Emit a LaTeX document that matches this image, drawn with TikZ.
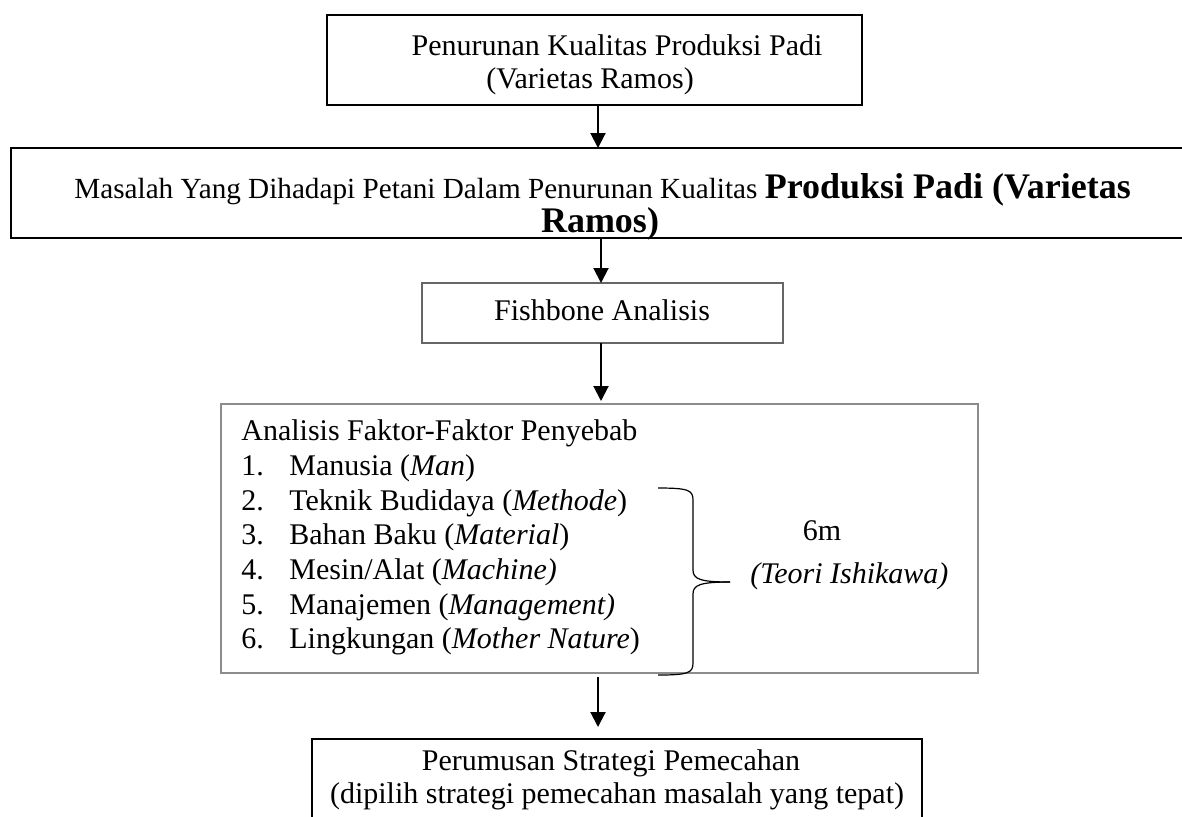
\documentclass[tikz,border=0pt]{standalone}
\usepackage{fontspec}
\setmainfont{Liberation Serif}
\usetikzlibrary{arrows.meta}
\newcommand{\myfs}{\fontsize{15}{17}\selectfont}
\newcommand{\mysm}{\fontsize{14.6}{17}\selectfont}
\newcommand{\mybf}{\bfseries\fontsize{18}{20}\selectfont}
\begin{document}
\begin{tikzpicture}[x=0.5pt,y=-0.5pt,
  boxthick/.style={draw=black,line width=1.1pt,inner sep=0pt,outer sep=0pt},
  boxthin/.style={draw=black!60,line width=0.6pt,inner sep=0pt,outer sep=0pt},
  boxlight/.style={draw=black!45,line width=0.6pt,inner sep=0pt,outer sep=0pt},
  txt/.style={inner sep=0pt,font=\myfs},
  arr/.style={line width=1pt,-{Triangle[length=7.5pt,width=7.5pt]}},
  bracepath/.style={line width=0.6pt,black}
]
\useasboundingbox (0,0) rectangle (1182,816);

% boxes
\node[boxthick,minimum width=267.5pt,minimum height=45pt] (b1) at (594.5,60) {};
\node[boxthick,minimum width=589.5pt,minimum height=45pt] (b2) at (600.5,193) {};
\node[boxthin,minimum width=180.5pt,minimum height=30pt] (b3) at (602.5,313) {};
\node[boxlight,minimum width=378.5pt,minimum height=134.5pt] (b4) at (599.5,538.5) {};
\node[boxthick,minimum width=305pt,minimum height=45.5pt] (b5) at (617,784.5) {};

% texts
\node[txt,anchor=base] (t1a) at (617,55) {Penurunan Kualitas Produksi Padi};
\node[txt,anchor=base] (t1b) at (590,88) {(Varietas Ramos)};
\node[txt,anchor=base west] (t2a) at (74,198) {\mysm Masalah Yang Dihadapi Petani Dalam Penurunan Kualitas {\mybf Produksi Padi (Varietas}};
\node[txt,anchor=base] (t2b) at (600,232) {\mybf Ramos)};
\node[txt,anchor=base] (t3) at (602,320) {Fishbone Analisis};

\node[txt,anchor=base west] (h4) at (241,440) {Analisis Faktor-Faktor Penyebab};
\node[txt,anchor=base west] (i1) at (241,475) {\makebox[24pt][l]{1.}Manusia (\textit{Man})};
\node[txt,anchor=base west] (i2) at (241,510) {\makebox[24pt][l]{2.}Teknik Budidaya (\textit{Methode})};
\node[txt,anchor=base west] (i3) at (241,544) {\makebox[24pt][l]{3.}Bahan Baku (\textit{Material})};
\node[txt,anchor=base west] (i4) at (241,579) {\makebox[24pt][l]{4.}Mesin/Alat (\textit{Machine)}};
\node[txt,anchor=base west] (i5) at (241,614) {\makebox[24pt][l]{5.}Manajemen (\textit{Management)}};
\node[txt,anchor=base west] (i6) at (241,648) {\makebox[24pt][l]{6.}Lingkungan (\textit{Mother Nature})};

\node[txt,anchor=base] (m6) at (822,540) {6m};
\node[txt,anchor=base west] (ti) at (750,583) {\textit{(Teori Ishikawa)}};

\node[txt,anchor=base] (t5a) at (611,770) {Perumusan Strategi Pemecahan};
\node[txt,anchor=base] (t5b) at (617,803) {(dipilih strategi pemecahan masalah yang tepat)};

% brace
\draw[bracepath] (658,488) .. controls (688,488) and (693,490) .. (693,500)
  -- (693,570) .. controls (693,579) and (700,582) .. (730,582);
\draw[bracepath] (730,582) .. controls (700,582) and (693,585) .. (693,594)
  -- (693,663) .. controls (693,673) and (688,675) .. (658,675);

% connectors
\coordinate (c1) at (598,0);
\coordinate (c2) at (601,0);
\coordinate (c4) at (598,0);
\draw[arr] (b1.south -| c1) -- (b2.north -| c1);
\draw[arr] (b2.south -| c2) -- (b3.north -| c2);
\draw[arr,shorten >=1.5pt] (b3.south -| c2) -- (b4.north -| c2);
\draw[arr,shorten <=2pt,shorten >=6pt] (b4.south -| c4) -- (b5.north -| c4);
\end{tikzpicture}
\end{document}
